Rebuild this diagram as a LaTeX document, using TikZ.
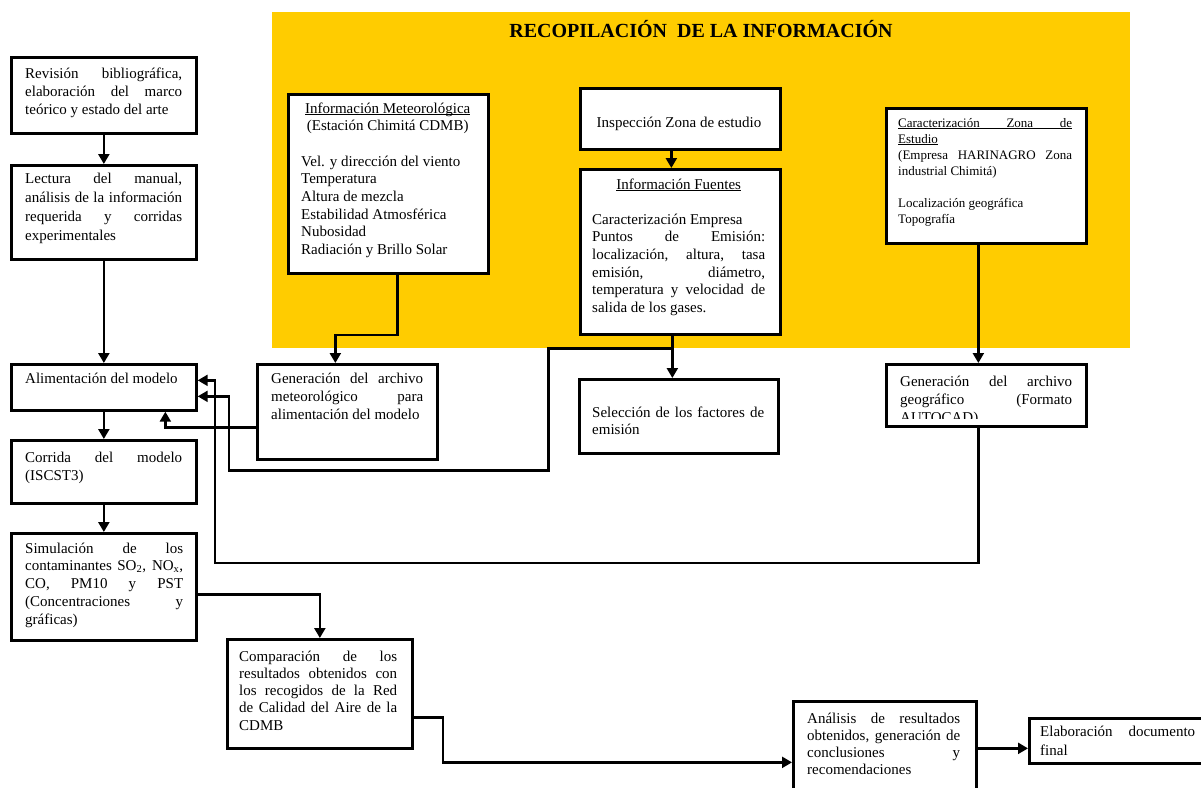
\documentclass[tikz,border=0pt]{standalone}
\usepackage{fontspec}
\setmainfont{Liberation Serif}
\usetikzlibrary{arrows.meta,calc}
\definecolor{yel}{HTML}{FFCC00}
\newcommand\J[1]{\makebox[\linewidth][s]{#1}}
\newcommand\UL[1]{\leavevmode\setbox0\hbox{#1}\rlap{\rule[-2.2pt]{\wd0}{0.9pt}}\box0}
\tikzset{
 bx/.style={draw, line width=2.7pt, fill=white, inner sep=0pt, anchor=north west},
 tx/.style={anchor=base west, inner sep=0pt, font=\fontsize{15}{18}\selectfont},
 arr/.style={line width=2.3pt, -{Triangle[length=10pt,width=11pt]}},
}
\newcommand\BOX[5]{\node[bx, minimum width={(#4-#2)*1pt}, minimum height={(#5-#3)*1pt}] (#1) at (#2,#3) {};}
\begin{document}
\begin{tikzpicture}[x=1pt,y=-1pt]
\useasboundingbox (0,0) rectangle (1201,787);
% yellow area
\node[fill=yel, inner sep=0pt, anchor=north west, minimum width=858pt, minimum height=336pt] (yellow) at (272,12) {};
\node[anchor=base, inner sep=0pt, font=\fontsize{20}{24}\selectfont\bfseries] (title) at (701,37) {RECOPILACIÓN\ \ DE LA INFORMACIÓN};
% boxes
\BOX{rev}{10}{56}{195}{132}
\BOX{lect}{10}{164}{195}{258}
\BOX{alim}{10}{363}{195}{409}
\BOX{corr}{10}{439}{195}{502}
\BOX{sim}{10}{532}{195}{639}
\BOX{comp}{226}{638}{411}{747}
\BOX{genmet}{256}{363}{436}{458}
\BOX{infomet}{287}{93}{487}{272}
\BOX{insp}{579}{87}{779}{148}
\BOX{infof}{579}{168}{779}{333}
\BOX{sel}{578}{378}{777}{452}
\BOX{caract}{885}{107}{1085}{242}
\BOX{gengeo}{885}{363}{1085}{425}
\BOX{anal}{792}{700}{975}{794}
\BOX{elab}{1028}{717}{1215}{762}
% connectors
\draw[arr] (rev.south) -- (lect.north);
\draw[arr] (lect.south) -- (alim.north);
\draw[arr] (alim.south) -- (corr.north);
\draw[arr] (corr.south) -- (sim.north);
\draw[arr] ($(sim.east)+(0,7.5)$) -| (comp.north);
\draw[arr] ($(comp.east)+(0,23.5)$) -- ++(29,0) |- ($(anal.west)+(0,14)$);
\draw[arr] (anal.east) -- (anal.east -| elab.west);
\draw[arr] ($(infomet.south)+(9,0)$) -- ++(0,60) -| ($(genmet.north)+(-12,0)$);
\draw[arr] ($(insp.south)+(-9,0)$) -- ($(infof.north)+(-9,0)$);
\coordinate (fj) at ($(infof.south)+(-8,0)$);
\draw[arr] (fj) -- (fj |- sel.north);
\coordinate (fk) at (fj |- yellow.south);
\draw[arr] (fk) -- ++(-124,0) -- ++(0,122) -| ($(alim.east)+(31,9)$) -- ($(alim.east)+(0,9)$);
\coordinate (gj) at ($(caract.south)+(-8,0)$);
\draw[arr] (gj) -- (gj |- gengeo.north);
\draw[arr] (gj |- gengeo.south) -- ++(0,135) -| ($(alim.east)+(17,-7)$) -- ($(alim.east)+(0,-7)$);
\draw[arr] ($(genmet.west)+(0,15.5)$) -| ($(alim.south)+(61.5,0)$);
% texts
\node[tx] (revt) at (25,78) {\parbox[t]{157pt}{\J{Revisión bibliográfica,}\\\J{elaboración del marco}\\teórico y estado del arte}};
\node[tx, font=\fontsize{15}{19}\selectfont] (lectt) at (25,183) {\parbox[t]{157pt}{\J{Lectura del manual,}\\\J{análisis de la información}\\\J{requerida y corridas}\\experimentales}};
\node[tx] (alimt) at (25,383) {Alimentación del modelo};
\node[tx] (corrt) at (25,462) {\parbox[t]{157pt}{\J{Corrida del modelo}\\(ISCST3)}};
\node[tx, font=\fontsize{15}{17.8}\selectfont] (simt) at (25,553) {\parbox[t]{158pt}{\J{Simulación de los}\\\J{contaminantes SO\textsubscript{2}, NO\textsubscript{x},}\\\J{CO, PM10 y PST}\\\J{(Concentraciones y}\\gráficas)}};
\node[tx, font=\fontsize{15}{17.3}\selectfont] (compt) at (239,661) {\parbox[t]{158pt}{\J{Comparación de los}\\\J{resultados obtenidos con}\\\J{los recogidos de la Red}\\\J{de Calidad del Aire de la}\\CDMB}};
\node[tx] (genmett) at (271,383) {\parbox[t]{152pt}{\J{Generación del archivo}\\\J{meteorológico para}\\alimentación del modelo}};
\node[tx, font=\fontsize{15}{17.7}\selectfont] (infomett) at (301,113) {\parbox[t]{173pt}{\makebox[\linewidth][c]{\UL{Información Meteorológica}}\\\makebox[\linewidth][c]{(Estación Chimitá CDMB)}\\[\baselineskip]Vel. y dirección del viento\\Temperatura\\Altura de mezcla\\Estabilidad Atmosférica\\Nubosidad\\Radiación y Brillo Solar}};
\node[tx, anchor=base] (inspt) at (679,127) {Inspección Zona de estudio};
\node[tx, font=\fontsize{15}{17.6}\selectfont] (infoft) at (592,189) {\parbox[t]{173pt}{\makebox[\linewidth][c]{\UL{Información Fuentes}}\\[\baselineskip]Caracterización Empresa\\\J{Puntos de Emisión:}\\\J{localización, altura, tasa}\\\J{emisión, diámetro,}\\\J{temperatura y velocidad de}\\salida de los gases.}};
\node[tx, font=\fontsize{15}{17.5}\selectfont] (selt) at (592,417) {\parbox[t]{172pt}{\J{Selección de los factores de}\\emisión}};
\node[tx, font=\fontsize{13}{16}\selectfont] (caractt) at (898,127) {\parbox[t]{174pt}{\UL{\J{Caracterización Zona de}}\\\UL{Estudio}\\\J{(Empresa HARINAGRO Zona}\\industrial Chimitá)\\[\baselineskip]Localización geográfica\\Topografía}};
\begin{scope}
\clip (886,364) rectangle (1084,418);
\node[tx] (gengeot) at (900,386) {\parbox[t]{172pt}{\J{Generación del archivo}\\\J{geográfico (Formato}\\AUTOCAD)}};
\end{scope}
\node[tx, font=\fontsize{15}{17}\selectfont] (analt) at (807,723) {\parbox[t]{153pt}{\J{Análisis de resultados}\\\J{obtenidos, generación de}\\\J{conclusiones y}\\recomendaciones}};
\node[tx, font=\fontsize{15}{19}\selectfont] (elabt) at (1040,736) {\parbox[t]{155pt}{\J{Elaboración documento}\\final}};
\end{tikzpicture}
\end{document}
